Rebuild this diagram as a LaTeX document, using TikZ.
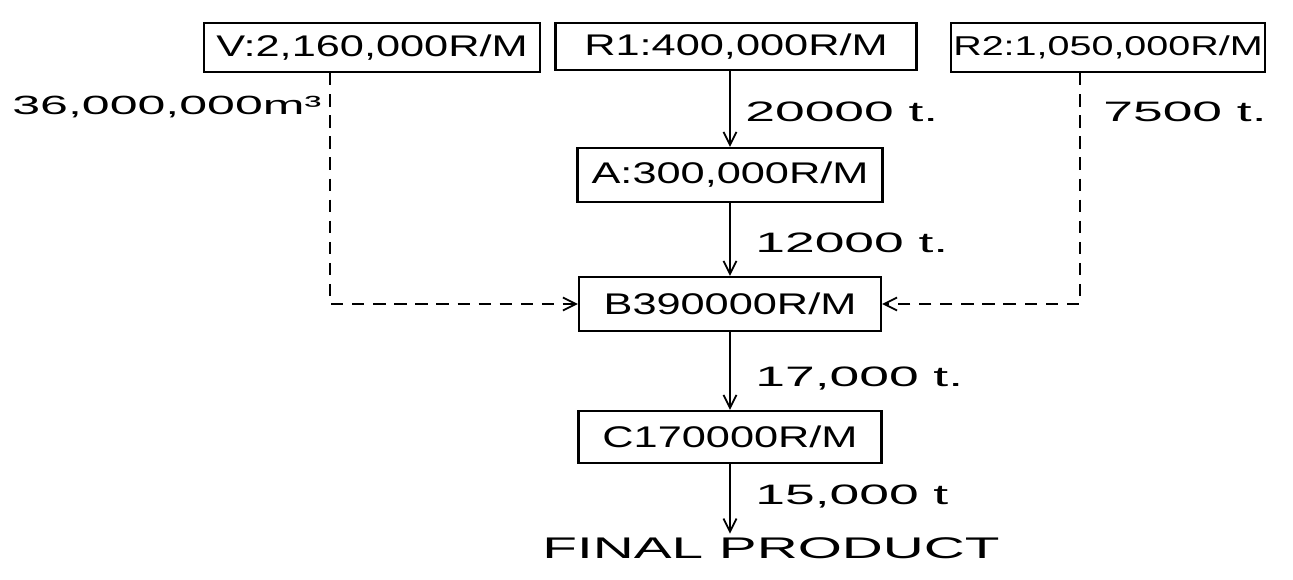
\documentclass[tikz,border=0pt]{standalone}
\usepackage{fontspec}
\newfontfamily\boxfont[FakeStretch=1.45]{Liberation Sans}
\newfontfamily\qtyfont[FakeStretch=1.9]{Liberation Sans}
\usetikzlibrary{positioning, arrows.meta}

\begin{document}
\begin{tikzpicture}[
    x=0.02cm, y=-0.02cm,
    plant/.style={
        rectangle, draw=black, line width=1.3pt,
        inner sep=0pt, align=center,
        font=\boxfont\fontsize{17}{17}\selectfont
    },
    qty/.style={
        anchor=west, inner sep=0pt,
        font=\qtyfont\fontsize{16}{16}\selectfont
    },
    flow/.style={-{Straight Barb[length=2.6mm, width=2.6mm]}, line width=1pt, draw=black},
    feed/.style={flow, dash pattern=on 7pt off 5pt}
]
\useasboundingbox (0,0) rectangle (1293,579);

% ============ Suppliers (top row) ============
\node[plant, minimum width=6.72cm, minimum height=0.98cm] (v) at (372,47.5) {V:2,160,000R/M};
\node[plant, minimum width=7.22cm, minimum height=0.94cm] (r1) at (736,46.5) {R1:400,000R/M};
\node[plant, minimum width=6.28cm, minimum height=0.98cm,
      font=\boxfont\fontsize{15.5}{15.5}\selectfont] (r2) at (1108,47.5) {R2:1,050,000R/M};

% ============ Processing chain ============
\node[plant, minimum width=6.10cm, minimum height=1.08cm] (a) at (730,175) {A:300,000R/M};
\node[plant, minimum width=6.04cm, minimum height=1.08cm] (b) at (730,304) {B390000R/M};
\node[plant, minimum width=6.06cm, minimum height=1.04cm] (c) at (730,437) {C170000R/M};
\node[inner sep=2pt, font=\qtyfont\fontsize{17}{17}\selectfont] (final) at (771,548) {FINAL PRODUCT};

% ============ Flow ============
\draw[flow] (r1.south -| a.north) -- (a.north);
\draw[flow] (a) -- (b);
\draw[flow] (b) -- (c);
\draw[flow] (c.south) -- (c.south |- final.north);
\draw[feed] ([xshift=-0.84cm]v.south) |- (b.west);
\draw[feed] ([xshift=-0.56cm]r2.south) |- (b.east);

% ============ Quantities ============
\node[qty, font=\qtyfont\fontsize{15}{15}\selectfont] (vol) at (12,107) {36,000,000m³};
\node[qty] (q1) at (745,112) {20000 t.};
\node[qty] (q2) at (1103,112) {7500 t.};
\node[qty] (q3) at (755,243) {12000 t.};
\node[qty] (q4) at (755,378) {17,000 t.};
\node[qty] (q5) at (755,496) {15,000 t};

\end{tikzpicture}
\end{document}
